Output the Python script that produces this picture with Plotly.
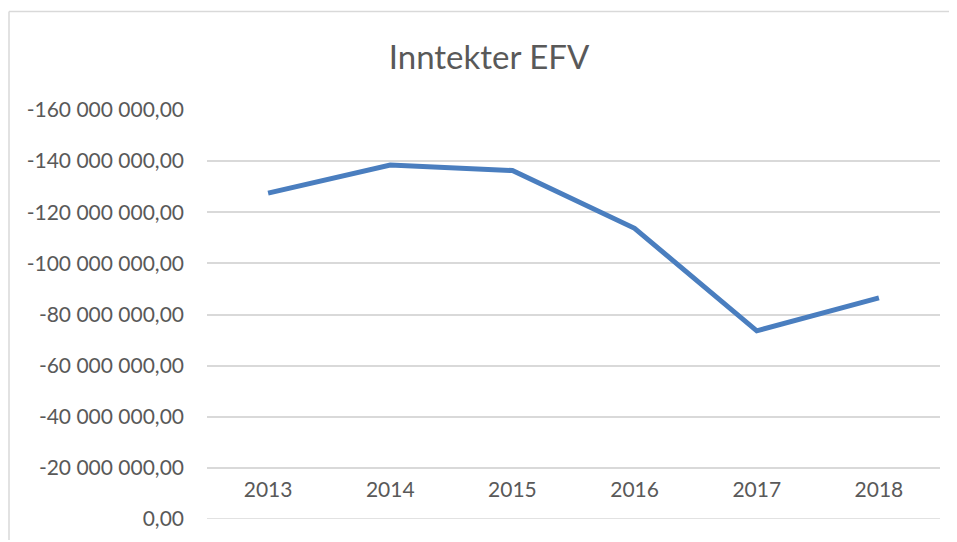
import plotly.graph_objects as go

years = ["2013", "2014", "2015", "2016", "2017", "2018"]
inntekter = [-127.5e6, -138.5e6, -136.3e6, -113.7e6, -73.6e6, -86.5e6]
y_ticks = [0, -20e6, -40e6, -60e6, -80e6, -100e6, -120e6, -140e6, -160e6]
y_labels = ["0,00", "-20 000 000,00", "-40 000 000,00", "-60 000 000,00",
            "-80 000 000,00", "-100 000 000,00", "-120 000 000,00",
            "-140 000 000,00", "-160 000 000,00"]

# page body has an 8px default margin; compensate so the picture lines up
OFF = 8
W, H = 957 - OFF, 542 - OFF
L, T = 207 - OFF, 110 - OFF
R = W - (940 - OFF)
B = H - (521 - OFF)
pw, ph = W - L - R, H - T - B

text_color = "#595959"
grid_color = "#d9d9d9"
font_family = "Lato, 'Open Sans', sans-serif"

fig = go.Figure()
fig.add_trace(go.Scatter(
    x=list(range(len(years))), y=inntekter, mode="lines",
    line=dict(color="#4a7ebf", width=5), hoverinfo="skip", showlegend=False,
))

fig.update_layout(
    width=W, height=H,
    margin=dict(l=L, r=R, t=T, b=B),
    paper_bgcolor="white", plot_bgcolor="white",
    font=dict(family=font_family, color=text_color),
    title=dict(text="Inntekter EFV", x=(489 - OFF) / W, xanchor="center",
               y=1 - (57 - OFF) / H, yanchor="middle",
               font=dict(size=33, color=text_color, family=font_family)),
    xaxis=dict(
        range=[-0.5, len(years) - 0.5],
        tickmode="array", tickvals=list(range(len(years))), ticktext=years,
        showgrid=False, zeroline=False, showline=False, ticks="",
        anchor="free", position=(0 - y_ticks[1]) / (0 - y_ticks[-1]),
        ticklabelstandoff=7,
        tickfont=dict(size=21, color=text_color),
    ),
    yaxis=dict(
        range=[y_ticks[0], y_ticks[-1]],
        tickmode="array", tickvals=y_ticks, ticktext=y_labels,
        showgrid=True, gridcolor=grid_color, gridwidth=1.5,
        zeroline=False, showline=False, ticks="",
        ticklabelstandoff=22,
        tickfont=dict(size=21, color=text_color),
    ),
    shapes=[
        dict(type="line", xref="paper", yref="paper",
             x0=(1 - L) / pw, x1=(W - L) / pw,
             y0=1 + (T - (11 - OFF)) / ph, y1=1 + (T - (11 - OFF)) / ph,
             line=dict(color=grid_color, width=1.5)),
        dict(type="line", xref="paper", yref="paper",
             x0=(1 - L) / pw, x1=(1 - L) / pw,
             y0=1 + (T - (11 - OFF)) / ph, y1=-B / ph,
             line=dict(color=grid_color, width=1.5)),
        dict(type="line", xref="paper", yref="y",
             x0=0, x1=1, y0=0, y1=0, layer="below",
             line=dict(color=grid_color, width=1.5)),
    ],
)

fig.write_html("out.html")
